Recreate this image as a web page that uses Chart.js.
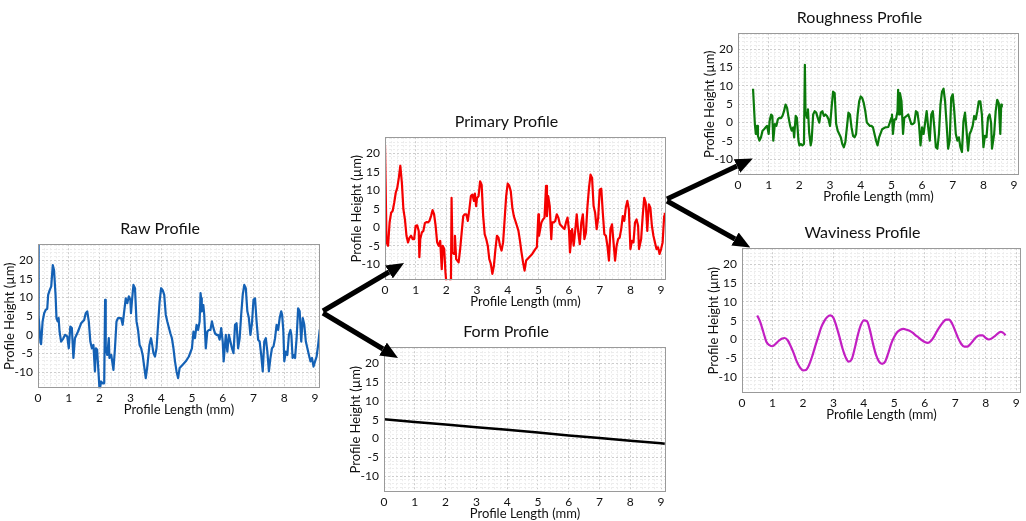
<!DOCTYPE html>
<html><head><meta charset="utf-8">
<script src="https://cdn.jsdelivr.net/npm/chart.js@4.4.1/dist/chart.umd.min.js"></script>
<style>
html,body{margin:0;padding:0;background:#fff;overflow:hidden;width:1026px;height:521px;}
.box{position:absolute;}
svg{position:absolute;left:0;top:0;z-index:5;pointer-events:none}
</style></head><body>
<div class="box" id="b0"><canvas id="c0"></canvas></div>
<div class="box" id="b1"><canvas id="c1"></canvas></div>
<div class="box" id="b2"><canvas id="c2"></canvas></div>
<div class="box" id="b3"><canvas id="c3"></canvas></div>
<div class="box" id="b4"><canvas id="c4"></canvas></div>
<svg width="1026" height="521">
<defs><marker id="ah" markerWidth="3.5" markerHeight="3" refX="0" refY="1.5" orient="auto" markerUnits="strokeWidth"><path d="M0,0 L3.5,1.5 L0,3 z" fill="#000"/></marker></defs>
<g stroke="#000" stroke-width="5" marker-end="url(#ah)">
<line x1="323" y1="311" x2="389" y2="272"/>
<line x1="323" y1="313" x2="383" y2="349"/>
<line x1="667" y1="199" x2="737" y2="166"/>
<line x1="667" y1="201" x2="735" y2="239"/>
</g></svg>
<script>
// [Profile Length (mm), Profile Height (µm)]
const rawProfile = [[0,26],[0.02,5],[0.08,-2],[0.1,-2.5],[0.15,3.6],[0.2,5.8],[0.25,6.7],[0.3,7],[0.33,10.7],[0.38,12],[0.43,13],[0.48,18.7],[0.52,17.4],[0.57,10.7],[0.6,4.5],[0.64,3.6],[0.67,4.5],[0.7,0.9],[0.75,-1.8],[0.82,-1],[0.88,0],[0.95,-0.4],[1.0,-3.6],[1.05,2.2],[1.1,1.8],[1.15,-6.2],[1.2,-0.9],[1.3,0.9],[1.4,3.1],[1.5,4],[1.55,5.8],[1.6,6.3],[1.65,3.6],[1.7,-1.8],[1.75,-3.6],[1.8,-2.7],[1.85,-9.8],[1.88,-3.6],[1.92,-4],[1.97,-10.7],[2.0,-15],[2.05,-12.5],[2.1,-13],[2.15,-13],[2.18,9.4],[2.2,-3.6],[2.25,-5.4],[2.3,-0.9],[2.32,-6.2],[2.38,-5.4],[2.45,-9.4],[2.5,-3.6],[2.55,3.6],[2.6,4.5],[2.7,4.5],[2.75,2.7],[2.8,6.3],[2.85,9.8],[2.9,8.5],[2.95,10.3],[3.0,9.4],[3.02,5.8],[3.05,8.9],[3.1,13.4],[3.15,12.5],[3.2,3.6],[3.25,1.3],[3.3,-2.7],[3.35,-3.6],[3.4,-5.4],[3.45,-8.5],[3.5,-11.6],[3.55,-8.5],[3.62,-2.7],[3.67,-0.9],[3.7,-2.2],[3.75,-4.9],[3.8,-5.8],[3.85,-3.6],[3.9,2.7],[3.95,8.9],[4.0,12.5],[4.05,12],[4.1,10.7],[4.15,5.4],[4.2,3.6],[4.3,0.4],[4.35,-0.9],[4.4,-3.6],[4.45,-7.1],[4.5,-9.8],[4.55,-11.6],[4.6,-8.9],[4.7,-8],[4.8,-7.1],[4.9,-5.8],[5.0,-3.6],[5.05,0.9],[5.1,-0.9],[5.15,2.7],[5.2,1.3],[5.25,3.6],[5.28,11.2],[5.3,9.8],[5.32,6.3],[5.37,8],[5.4,5.4],[5.45,-3.6],[5.5,0.9],[5.55,1.3],[5.6,1.3],[5.65,3.6],[5.7,1.8],[5.75,0.4],[5.8,0],[5.85,0],[5.9,-1.3],[5.95,1.8],[6.0,-1.8],[6.03,-7.1],[6.1,0],[6.15,-4.5],[6.2,0],[6.25,-1.8],[6.3,-3.6],[6.35,-4.9],[6.4,2.7],[6.45,3.1],[6.5,-3.6],[6.55,-0.9],[6.6,5.4],[6.65,10.7],[6.7,13.4],[6.75,12.5],[6.8,6.3],[6.85,4.5],[6.9,0],[6.95,3.1],[7.0,9.4],[7.05,9.8],[7.1,3.6],[7.15,-1.3],[7.2,-1.8],[7.25,-5.4],[7.3,-9.8],[7.35,-1.8],[7.4,-0.9],[7.45,-4.5],[7.5,-9.8],[7.55,-6.2],[7.6,-3.6],[7.65,-3.1],[7.7,-0.9],[7.75,2.7],[7.8,1.3],[7.85,4.5],[7.9,6.3],[7.93,5.4],[7.97,0.9],[8.0,-7.1],[8.05,-4.5],[8.1,-5.4],[8.15,0],[8.2,1.3],[8.23,0],[8.27,-6.2],[8.3,-5.4],[8.35,-6.2],[8.4,-0.9],[8.45,7.1],[8.5,6.3],[8.55,-1.8],[8.6,4.5],[8.65,2.7],[8.7,-1.8],[8.75,-3.6],[8.8,-5.4],[8.85,-7.1],[8.9,-6.2],[8.95,-8.5],[9.0,-7.1],[9.05,-5.8],[9.1,-2.7],[9.15,1.3],[9.2,2.2]];

const primaryProfile = [[0,22.2],[0.05,-4.1],[0.1,-5],[0.15,1.3],[0.2,3.9],[0.25,4.4],[0.3,6.6],[0.35,9.3],[0.4,10.6],[0.45,13.3],[0.5,16.6],[0.55,12],[0.6,4.8],[0.65,2.1],[0.7,-2.3],[0.75,-4.1],[0.8,-2.8],[0.85,-2.3],[0.9,-3.2],[0.95,-3.2],[1.0,0.4],[1.05,0.5],[1.1,-1],[1.12,-8.1],[1.15,-3.2],[1.2,-1.4],[1.25,-1],[1.3,1.1],[1.35,1.4],[1.4,1.3],[1.45,1.7],[1.5,3],[1.55,4.6],[1.6,3.5],[1.65,0.4],[1.7,-4.1],[1.75,-5],[1.8,-3.7],[1.85,-11.3],[1.88,-5],[1.93,-5.9],[1.97,-12.1],[2.0,-15],[2.1,-15],[2.15,-13.9],[2.17,7.9],[2.2,-6.8],[2.25,-7.2],[2.28,-2.3],[2.32,-8.6],[2.4,-9.5],[2.45,-5.9],[2.5,-1.4],[2.55,3],[2.6,3.5],[2.65,3.5],[2.7,1.7],[2.75,4.8],[2.8,8.4],[2.85,8.8],[2.9,7.1],[2.93,9.1],[2.97,5.7],[3.0,7.9],[3.05,8.4],[3.1,12.4],[3.15,11.5],[3.2,3],[3.25,-1.9],[3.3,-3.2],[3.35,-5],[3.4,-8.6],[3.45,-9.9],[3.5,-12.6],[3.55,-10.4],[3.6,-5.9],[3.65,-2.3],[3.7,-2.8],[3.75,-5],[3.8,-6.3],[3.85,-4.1],[3.9,2.1],[3.95,8.4],[4.0,11.8],[4.05,11.2],[4.1,9.7],[4.15,5.3],[4.2,3],[4.3,0.4],[4.35,-1],[4.4,-3.7],[4.45,-6.8],[4.5,-9.5],[4.55,-11.7],[4.6,-9],[4.7,-8.1],[4.8,-7.2],[4.9,-5.9],[4.95,-5.4],[5.0,3.5],[5.02,-2.3],[5.1,1.3],[5.15,2.1],[5.2,2.6],[5.25,11.2],[5.28,3],[5.32,8.4],[5.37,5.7],[5.42,-3.2],[5.45,1.3],[5.5,1.3],[5.55,1.7],[5.6,3.5],[5.65,2.6],[5.7,0.8],[5.8,-0.1],[5.85,-0.5],[5.9,1.3],[5.95,2.6],[6.0,-1],[6.03,-6.8],[6.1,-0.5],[6.15,-5],[6.2,-1],[6.25,3.5],[6.3,-1.4],[6.35,-4.6],[6.4,1.3],[6.45,3.5],[6.5,-3.2],[6.55,-1.4],[6.6,5.7],[6.65,10.6],[6.7,14.2],[6.75,13.3],[6.8,5.7],[6.85,3.9],[6.9,-0.5],[6.95,2.6],[7.0,10.2],[7.05,10.4],[7.1,3.9],[7.15,-1.9],[7.2,-2.3],[7.25,-5],[7.3,-9],[7.35,-0.5],[7.4,0.8],[7.45,-4.1],[7.5,-9],[7.55,-5],[7.6,-3.2],[7.65,-2.8],[7.7,-0.5],[7.75,3],[7.8,1.7],[7.85,5.3],[7.9,7.1],[7.95,4.8],[8.0,-5.9],[8.05,-3.7],[8.1,-4.1],[8.15,1.3],[8.2,2.1],[8.25,0.4],[8.28,-5.9],[8.35,-3.2],[8.4,3],[8.45,7.9],[8.5,6.6],[8.55,-1],[8.6,6.2],[8.65,5.3],[8.7,0.4],[8.75,-2.3],[8.8,-4.1],[8.85,-5.9],[8.9,-5.4],[8.95,-7.2],[9.0,-5.9],[9.05,-4.1],[9.1,3],[9.12,3.9]];

const formProfile = [[0,5.1],[1,4.4],[2,3.7],[3,3.0],[4,2.3],[5,1.6],[6,0.8],[7,0.1],[8,-0.6],[9,-1.3],[9.12,-1.4]];

const roughnessProfile = [[0.49,9.2],[0.55,-0.4],[0.58,-3.1],[0.62,-0.9],[0.65,-3.6],[0.7,-4.9],[0.75,-4],[0.8,-2.2],[0.85,-1.8],[0.9,-1.3],[0.95,-0.9],[1.0,-3.1],[1.03,0.4],[1.08,2.2],[1.12,1.8],[1.15,-4.9],[1.2,-0.4],[1.25,-0.9],[1.3,0.9],[1.35,1.3],[1.4,1.2],[1.45,1.8],[1.5,3.1],[1.55,4.9],[1.6,4],[1.65,1.3],[1.7,-0.9],[1.75,-2.2],[1.8,-1.3],[1.83,-4],[1.88,1.8],[1.92,1.3],[1.97,-4.9],[2.0,-6.2],[2.05,-5.8],[2.1,-6.2],[2.15,-5.8],[2.18,15.7],[2.2,3.1],[2.25,1.3],[2.28,3.6],[2.32,-2.7],[2.37,-6.2],[2.4,-4.9],[2.45,2.2],[2.5,3.1],[2.55,2.7],[2.6,1.3],[2.65,0],[2.7,2.7],[2.75,3.1],[2.8,1.8],[2.85,2.2],[2.9,1.8],[2.95,0.9],[3.0,-0.9],[3.05,4],[3.1,8.4],[3.15,8],[3.2,-0.4],[3.25,-2.2],[3.3,-3.1],[3.35,-4],[3.4,-5.8],[3.45,-6.7],[3.5,-5.3],[3.55,-1.3],[3.6,2.7],[3.65,2.2],[3.7,-1.3],[3.75,-3.6],[3.8,-4],[3.85,-3.1],[3.9,2.2],[3.95,5.8],[4.0,7.1],[4.05,6.7],[4.1,5.3],[4.15,3.1],[4.2,0],[4.3,-0.9],[4.35,-0.9],[4.4,-1.3],[4.45,-3.1],[4.5,-4.9],[4.55,-6.2],[4.6,-4],[4.7,-1.8],[4.8,-1.3],[4.9,-1.2],[5.0,1.3],[5.02,2.2],[5.05,-3.1],[5.1,0.9],[5.15,0.9],[5.2,3.1],[5.22,8.9],[5.25,2.2],[5.28,8],[5.33,5.8],[5.38,-3.1],[5.42,1.3],[5.5,1.8],[5.55,2.2],[5.6,0.9],[5.65,-0.4],[5.7,-0.4],[5.75,0],[5.8,3.1],[5.85,2.7],[5.9,-0.4],[5.95,-6.2],[6.0,-1.3],[6.05,-3.1],[6.1,0],[6.15,3.1],[6.2,-1.3],[6.25,-4.9],[6.3,2.2],[6.35,3.1],[6.4,-1.3],[6.45,-6.7],[6.5,-7.1],[6.55,-3.1],[6.6,4.9],[6.65,8.4],[6.7,9.2],[6.75,5.8],[6.8,-0.4],[6.85,-7.1],[6.9,-4.9],[6.95,6.7],[7.0,7.7],[7.05,3.1],[7.1,-3.1],[7.15,-4.9],[7.2,-4],[7.25,-6.7],[7.3,-8],[7.35,0.4],[7.4,2.7],[7.45,-2.2],[7.5,-7.6],[7.55,-3.1],[7.6,-2.2],[7.65,-0.9],[7.7,1.8],[7.75,0.9],[7.8,3.1],[7.85,5.8],[7.9,5.8],[7.95,2.2],[8.0,-6.7],[8.05,-3.6],[8.1,-4],[8.15,1.3],[8.2,2.2],[8.25,0],[8.28,-7.1],[8.35,-3.1],[8.4,3.1],[8.45,6.2],[8.5,5.3],[8.55,-3.1],[8.58,4.9],[8.6,4.4]];

const wavinessProfile = [[0.5,6.4],[0.6,4.6],[0.7,2],[0.8,-0.6],[0.9,-1.5],[1.0,-1.8],[1.1,-1.2],[1.2,-0.4],[1.3,0.2],[1.4,0.4],[1.5,-0.2],[1.6,-1.8],[1.7,-3.7],[1.8,-5.9],[1.9,-7.4],[2.0,-8.2],[2.1,-8.1],[2.2,-6.8],[2.3,-4.6],[2.4,-1.9],[2.5,0.7],[2.6,3.2],[2.7,4.9],[2.8,6],[2.9,6.4],[3.0,5.8],[3.1,3.5],[3.2,0.7],[3.3,-2.4],[3.4,-4.7],[3.5,-5.9],[3.6,-5.3],[3.7,-2.4],[3.8,1.1],[3.9,3.8],[4.0,5.1],[4.1,4.9],[4.2,2.5],[4.3,-1.1],[4.4,-4.1],[4.5,-5.9],[4.6,-6.5],[4.7,-5.9],[4.8,-3.7],[4.9,-1.1],[5.0,0.7],[5.1,2],[5.2,2.6],[5.3,2.8],[5.4,2.6],[5.5,2.3],[5.6,1.8],[5.7,1.1],[5.8,0.5],[5.9,-0.2],[6.0,-0.7],[6.1,-0.9],[6.2,-0.4],[6.3,0.7],[6.4,2.2],[6.5,3.5],[6.6,4.6],[6.7,5.3],[6.8,5.3],[6.9,4.2],[7.0,2.3],[7.1,0.3],[7.2,-1.2],[7.3,-1.9],[7.4,-1.9],[7.5,-1.2],[7.6,-0.2],[7.7,0.7],[7.8,1.1],[7.9,1.1],[8.0,0.4],[8.1,0],[8.2,0.3],[8.3,0.9],[8.4,1.6],[8.5,2],[8.6,1.6],[8.65,1.1]];

const xTickValues = [0,1,2,3,4,5,6,7,8,9];
const yTickValues = [-10,-5,0,5,10,15,20];
const titles = ['Raw Profile','Primary Profile','Form Profile','Roughness Profile','Waviness Profile'];
const xTitle = 'Profile Length (mm)';
const yTitle = 'Profile Height (µm)';

// layout: plot-area rectangle [left, top, right, bottom] for each panel
const panels = [
  {data: rawProfile, color:'#1461b5', width:2.2, tension:0, area:[38,244,320,388]},
  {data: primaryProfile, color:'#f50000', width:2.2, tension:0, area:[385,137,666,280]},
  {data: formProfile, color:'#000000', width:2.5, tension:0, area:[384,347,666,492]},
  {data: roughnessProfile, color:'#0b7a0b', width:2.2, tension:0, area:[738,33,1019,175]},
  {data: wavinessProfile, color:'#c21fc2', width:2.2, tension:0.4, area:[742,248,1021,393]}
];

const FONT = 'Lato, "Open Sans", sans-serif';
const YW = 38, XH = 29, TITLE_PT = 3, TITLE_PB = 6, TITLE_FS = 16;
const titleH = TITLE_PT + TITLE_FS*1.2 + TITLE_PB;

const frame = {
  id:'frame',
  afterDraw(chart){
    const a = chart.chartArea, c = chart.ctx;
    c.save(); c.strokeStyle = '#9a9a9a'; c.lineWidth = 1;
    c.strokeRect(Math.round(a.left)+0.5, Math.round(a.top)+0.5, Math.round(a.right-a.left)-1, Math.round(a.bottom-a.top)-1);
    c.restore();
  }
};

const near = (v, arr) => arr.some(t => Math.abs(v - t) < 1e-6);

panels.forEach((p, i) => {
  const [L,T,R,B] = p.area;
  const left = L - YW, top = T - titleH;
  const box = document.getElementById('b'+i);
  box.style.left = left + 'px';
  box.style.top = top + 'px';
  box.style.width = (R + 2 - left) + 'px';
  box.style.height = (B + XH - top) + 'px';
  new Chart(document.getElementById('c'+i), {
    type:'line',
    data:{datasets:[{
      data: p.data.map(d => ({x:d[0], y:d[1]})),
      borderColor: p.color, borderWidth: p.width, pointRadius:0,
      tension: p.tension, cubicInterpolationMode: p.tension ? 'monotone' : 'default',
      borderJoinStyle:'round', fill:false
    }]},
    options:{
      animation:false, responsive:true, maintainAspectRatio:false,
      layout:{padding:{left:0,right:2,top:0,bottom:0}},
      plugins:{
        legend:{display:false}, tooltip:{enabled:false},
        title:{display:true, text: titles[i], color:'#111',
          font:{family:FONT, size:TITLE_FS, weight:'normal'},
          padding:{top:TITLE_PT, bottom:TITLE_PB}}
      },
      scales:{
        x:{type:'linear', min:0, max:9.16,
          afterFit(s){ s.height = XH; },
          ticks:{stepSize:0.2, includeBounds:false, autoSkip:false, maxRotation:0, padding:3, color:'#111',
            font:{family:FONT, size:12},
            callback:v => near(v, xTickValues) ? String(Math.round(v)) : ''},
          grid:{drawTicks:false, lineWidth:1,
            color: ctx => near(ctx.tick.value, xTickValues) ? '#cdcdcd' : '#ececec'},
          border:{display:false, dash:[2,2]},
          title:{display:true, text:xTitle, color:'#111', font:{family:FONT, size:13}, padding:{top:0,bottom:0}}
        },
        y:{type:'linear', min:-14.3, max:24.3,
          afterFit(s){ s.width = YW; },
          ticks:{stepSize:1, includeBounds:false, autoSkip:false, padding:5, color:'#111',
            font:{family:FONT, size:12},
            callback:v => near(v, yTickValues) ? String(Math.round(v)) : ''},
          grid:{drawTicks:false, lineWidth:1,
            color: ctx => near(ctx.tick.value, yTickValues) ? '#cdcdcd' : '#ececec'},
          border:{display:false, dash:[2,2]},
          title:{display:true, text:yTitle, color:'#111', font:{family:FONT, size:13}, padding:{top:2,bottom:0}}
        }
      }
    },
    plugins:[frame]
  });
});
</script>
</body></html>
